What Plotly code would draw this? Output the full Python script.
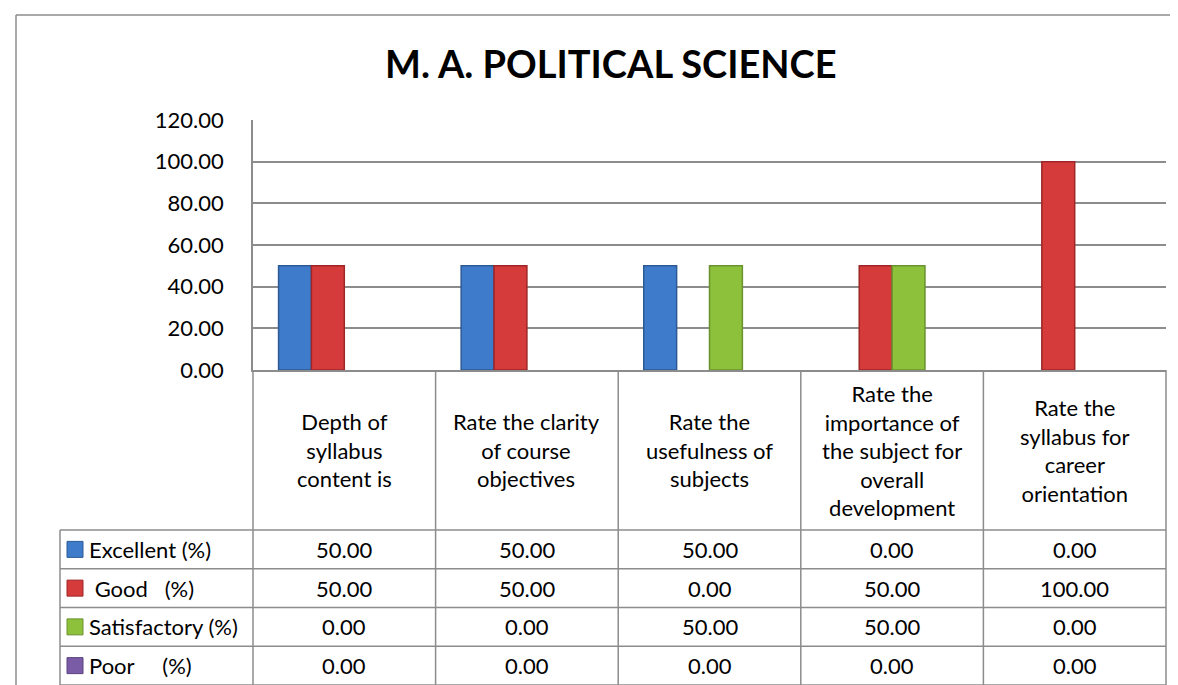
import plotly.graph_objects as go

# ---------------- data ----------------
categories = [
    "Depth of<br>syllabus<br>content is",
    "Rate the clarity<br>of course<br>objectives",
    "Rate the<br>usefulness of<br>subjects",
    "Rate the<br>importance of<br>the subject for<br>overall<br>development",
    "Rate the<br>syllabus for<br>career<br>orientation",
]
series_names = ["Excellent (%)", "\u00a0Good\u00a0\u00a0\u00a0(%)", "Satisfactory (%)", "Poor\u00a0\u00a0\u00a0\u00a0\u00a0(%)"]
excellent = [50.00, 50.00, 50.00, 0.00, 0.00]
good = [50.00, 50.00, 0.00, 50.00, 100.00]
satisfactory = [0.00, 0.00, 50.00, 50.00, 0.00]
poor = [0.00, 0.00, 0.00, 0.00, 0.00]
series_values = [excellent, good, satisfactory, poor]
y_ticks = [0, 20, 40, 60, 80, 100, 120]

# ---------------- styles ----------------
face_colors = ["#3E7CCB", "#D63B3B", "#8DC13B", "#7A5BA6"]
edge_colors = ["#2C5A95", "#9E2626", "#6A9330", "#5A4080"]
FONT = "Lato, Carlito, Calibri, sans-serif"
GRID = "#8C8C8C"

W, H = 1178, 685
PX0, PX1 = 245, 1158      # plot area x (pixels)
PY_TOP, PY_BOT = 112, 362  # plot area y (pixels)


def px(x):
    return (x - PX0) / (PX1 - PX0)


def py(y):
    return (PY_BOT - y) / (PY_BOT - PY_TOP)


fig = go.Figure()
for name, vals, fc, ec in zip(series_names, series_values, face_colors, edge_colors):
    fig.add_trace(go.Bar(
        x=list(range(len(categories))), y=vals, name=name,
        marker=dict(color=fc,
                    line=dict(color=ec, width=[1.5 if v > 0 else 0 for v in vals])),
        showlegend=False,
    ))

shapes = []
annotations = []


def line(x0, y0, x1, y1, color=GRID, width=1.5):
    shapes.append(dict(type="line", xref="paper", yref="paper",
                       x0=px(x0), y0=py(y0), x1=px(x1), y1=py(y1),
                       line=dict(color=color, width=width)))


# outer chart border (top & left visible)
line(8, 7, 1178, 7)
line(8, 7, 8, 685)

# table geometry
ncat = len(categories)
col_w = (PX1 - PX0) / ncat
col_edges = [PX0 + i * col_w for i in range(ncat + 1)]
header_bot = 522
table_bot = 677
nrows = len(series_names)
row_h = (table_bot - header_bot) / nrows
row_edges = [header_bot + i * row_h for i in range(nrows + 1)]
LEG_X = 52

# table lines
for ry in row_edges:
    line(LEG_X, ry, PX1, ry)
line(LEG_X, header_bot, LEG_X, table_bot)
for cx in col_edges:
    line(cx, PY_BOT, cx, table_bot)

# header (category) labels
for i, cat in enumerate(categories):
    cx = (col_edges[i] + col_edges[i + 1]) / 2
    annotations.append(dict(
        x=px(cx), y=py((PY_BOT + header_bot) / 2), xref="paper", yref="paper",
        text=cat, showarrow=False, xanchor="center", yanchor="middle",
        font=dict(family=FONT, size=22, color="#000000"), align="center"))

# rows
for r, (name, vals, fc, ec) in enumerate(zip(series_names, series_values, face_colors, edge_colors)):
    cy = (row_edges[r] + row_edges[r + 1]) / 2
    shapes.append(dict(type="rect", xref="paper", yref="paper",
                       x0=px(59), x1=px(75), y0=py(cy + 8), y1=py(cy - 8),
                       fillcolor=fc, line=dict(color=ec, width=1)))
    annotations.append(dict(
        x=px(79), y=py(cy), xref="paper", yref="paper", text=name,
        showarrow=False, xanchor="left", yanchor="middle",
        font=dict(family=FONT, size=22, color="#000000")))
    for i, v in enumerate(vals):
        cx = (col_edges[i] + col_edges[i + 1]) / 2
        annotations.append(dict(
            x=px(cx), y=py(cy), xref="paper", yref="paper", text=f"{v:.2f}",
            showarrow=False, xanchor="center", yanchor="middle",
            font=dict(family=FONT, size=22, color="#000000")))

# title
annotations.append(dict(
    x=px(603), y=py(55), xref="paper", yref="paper",
    text="<b>M. A. POLITICAL SCIENCE</b>", showarrow=False,
    xanchor="center", yanchor="middle",
    font=dict(family=FONT, size=38, color="#000000")))

fig.update_layout(
    width=W, height=H,
    margin=dict(l=PX0, r=W - PX1, t=PY_TOP, b=H - PY_BOT, pad=0),
    paper_bgcolor="white", plot_bgcolor="white",
    barmode="group", bargap=0.28, bargroupgap=0,
    shapes=shapes, annotations=annotations,
    font=dict(family=FONT, size=22, color="#000000"),
    xaxis=dict(range=[-0.5, ncat - 0.5], showticklabels=False, showgrid=False,
               zeroline=False, showline=True, linecolor=GRID, linewidth=1.5,
               ticks=""),
    yaxis=dict(range=[0, 120], tickvals=y_ticks, tickformat=".2f",
               showgrid=True, gridcolor=GRID, gridwidth=1.5,
               zeroline=False, showline=True, linecolor=GRID, linewidth=1.5,
               ticks="", ticklabelstandoff=23,
               tickfont=dict(family=FONT, size=22, color="#000000")),
)

fig.write_html("out.html")
